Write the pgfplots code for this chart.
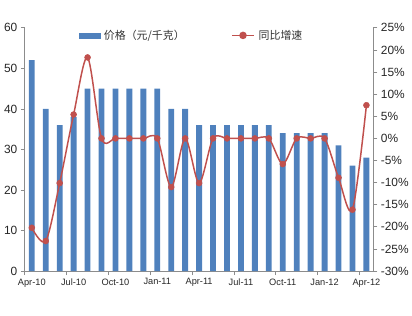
\documentclass[border=0pt]{standalone}
\usepackage{pgfplots}
\pgfplotsset{compat=1.18}
\usepackage{fontspec}
\setmainfont{Liberation Sans}
\newfontfamily\cjk{Noto Sans CJK SC}
\definecolor{barblue}{HTML}{4F81BD}
\definecolor{linered}{HTML}{C0504D}
\definecolor{axgray}{HTML}{8C8C8C}
\begin{document}
\begin{tikzpicture}
\pgfplotsset{
  base/.style={
    scale only axis, width=351pt, height=245pt,
    xmin=-0.5, xmax=24.5,
    axis line style={axgray, line width=1pt},
    tick style={axgray, line width=0.8pt},
    tick align=outside, major tick length=4pt,
    /pgf/number format/assume math mode=true,
    clip=false,
  }
}
\begin{axis}[base,
  ymin=0, ymax=60, ytick={0,10,...,60},
  axis y line*=left, axis x line*=bottom,
  xtick={-0.5,2.5,5.5,8.5,11.5,14.5,17.5,20.5,23.5},
  xticklabels={Apr-10,Jul-10,Oct-10,Jan-11,Apr-11,Jul-11,Oct-11,Jan-12,Apr-12},
  xticklabel style={xshift=7.02pt, font=\fontsize{9.3}{11}\selectfont, text=black!85},
  yticklabel style={font=\fontsize{12}{14}\selectfont, text=black!85},
  ]
\addplot[ybar, bar width=0.42, fill=barblue, draw=none] coordinates {
(0,52) (1,40) (2,36) (3,38) (4,45) (5,45) (6,45) (7,45) (8,45) (9,45)
(10,40) (11,40) (12,36) (13,36) (14,36) (15,36) (16,36) (17,36)
(18,34) (19,34) (20,34) (21,34) (22,31) (23,26) (24,28)};
\end{axis}
\begin{axis}[base,
  ymin=-30, ymax=25, ytick={-30,-25,...,25},
  axis y line*=right, axis x line=none,
  yticklabel={\pgfmathprintnumber{\tick}\%},
  yticklabel style={font=\fontsize{12}{14}\selectfont, text=black!85},
  legend columns=2,
  legend style={at={(0.154,1.0)}, anchor=north west, draw=none, fill=none,
    inner sep=0pt, font=\cjk\fontsize{11}{13}\selectfont, text=black!80,
    /tikz/every even column/.append style={column sep=45pt},
    /tikz/every odd column/.append style={column sep=2pt}},
  ]
\addlegendimage{legend image code/.code={\fill[barblue] (0pt,-2.5pt) rectangle (21pt,2.5pt);}}
\addlegendentry{价格（元/千克）}
\addplot[linered, line width=1.5pt, smooth, tension=0.5, mark=*, mark size=3pt,
  mark options={fill=linered, draw=linered, line width=0.5pt},
  legend image code/.code={\draw[linered, line width=1.5pt] (0pt,0pt) -- (22pt,0pt); \fill[linered] (11pt,0pt) circle (3pt);}]
 coordinates {
(0,-20.2) (1,-23.2) (2,-10.1) (3,5.4) (4,18.3) (5,0) (6,0) (7,0) (8,0) (9,0)
(10,-11) (11,0) (12,-10.1) (13,0) (14,0) (15,0) (16,0) (17,0)
(18,-5.8) (19,0) (20,0) (21,0) (22,-8.9) (23,-16.1) (24,7.5)};
\addlegendentry{同比增速}
\end{axis}
\path (-25pt,-45pt) rectangle (387pt,273pt);
\end{tikzpicture}
\end{document}
